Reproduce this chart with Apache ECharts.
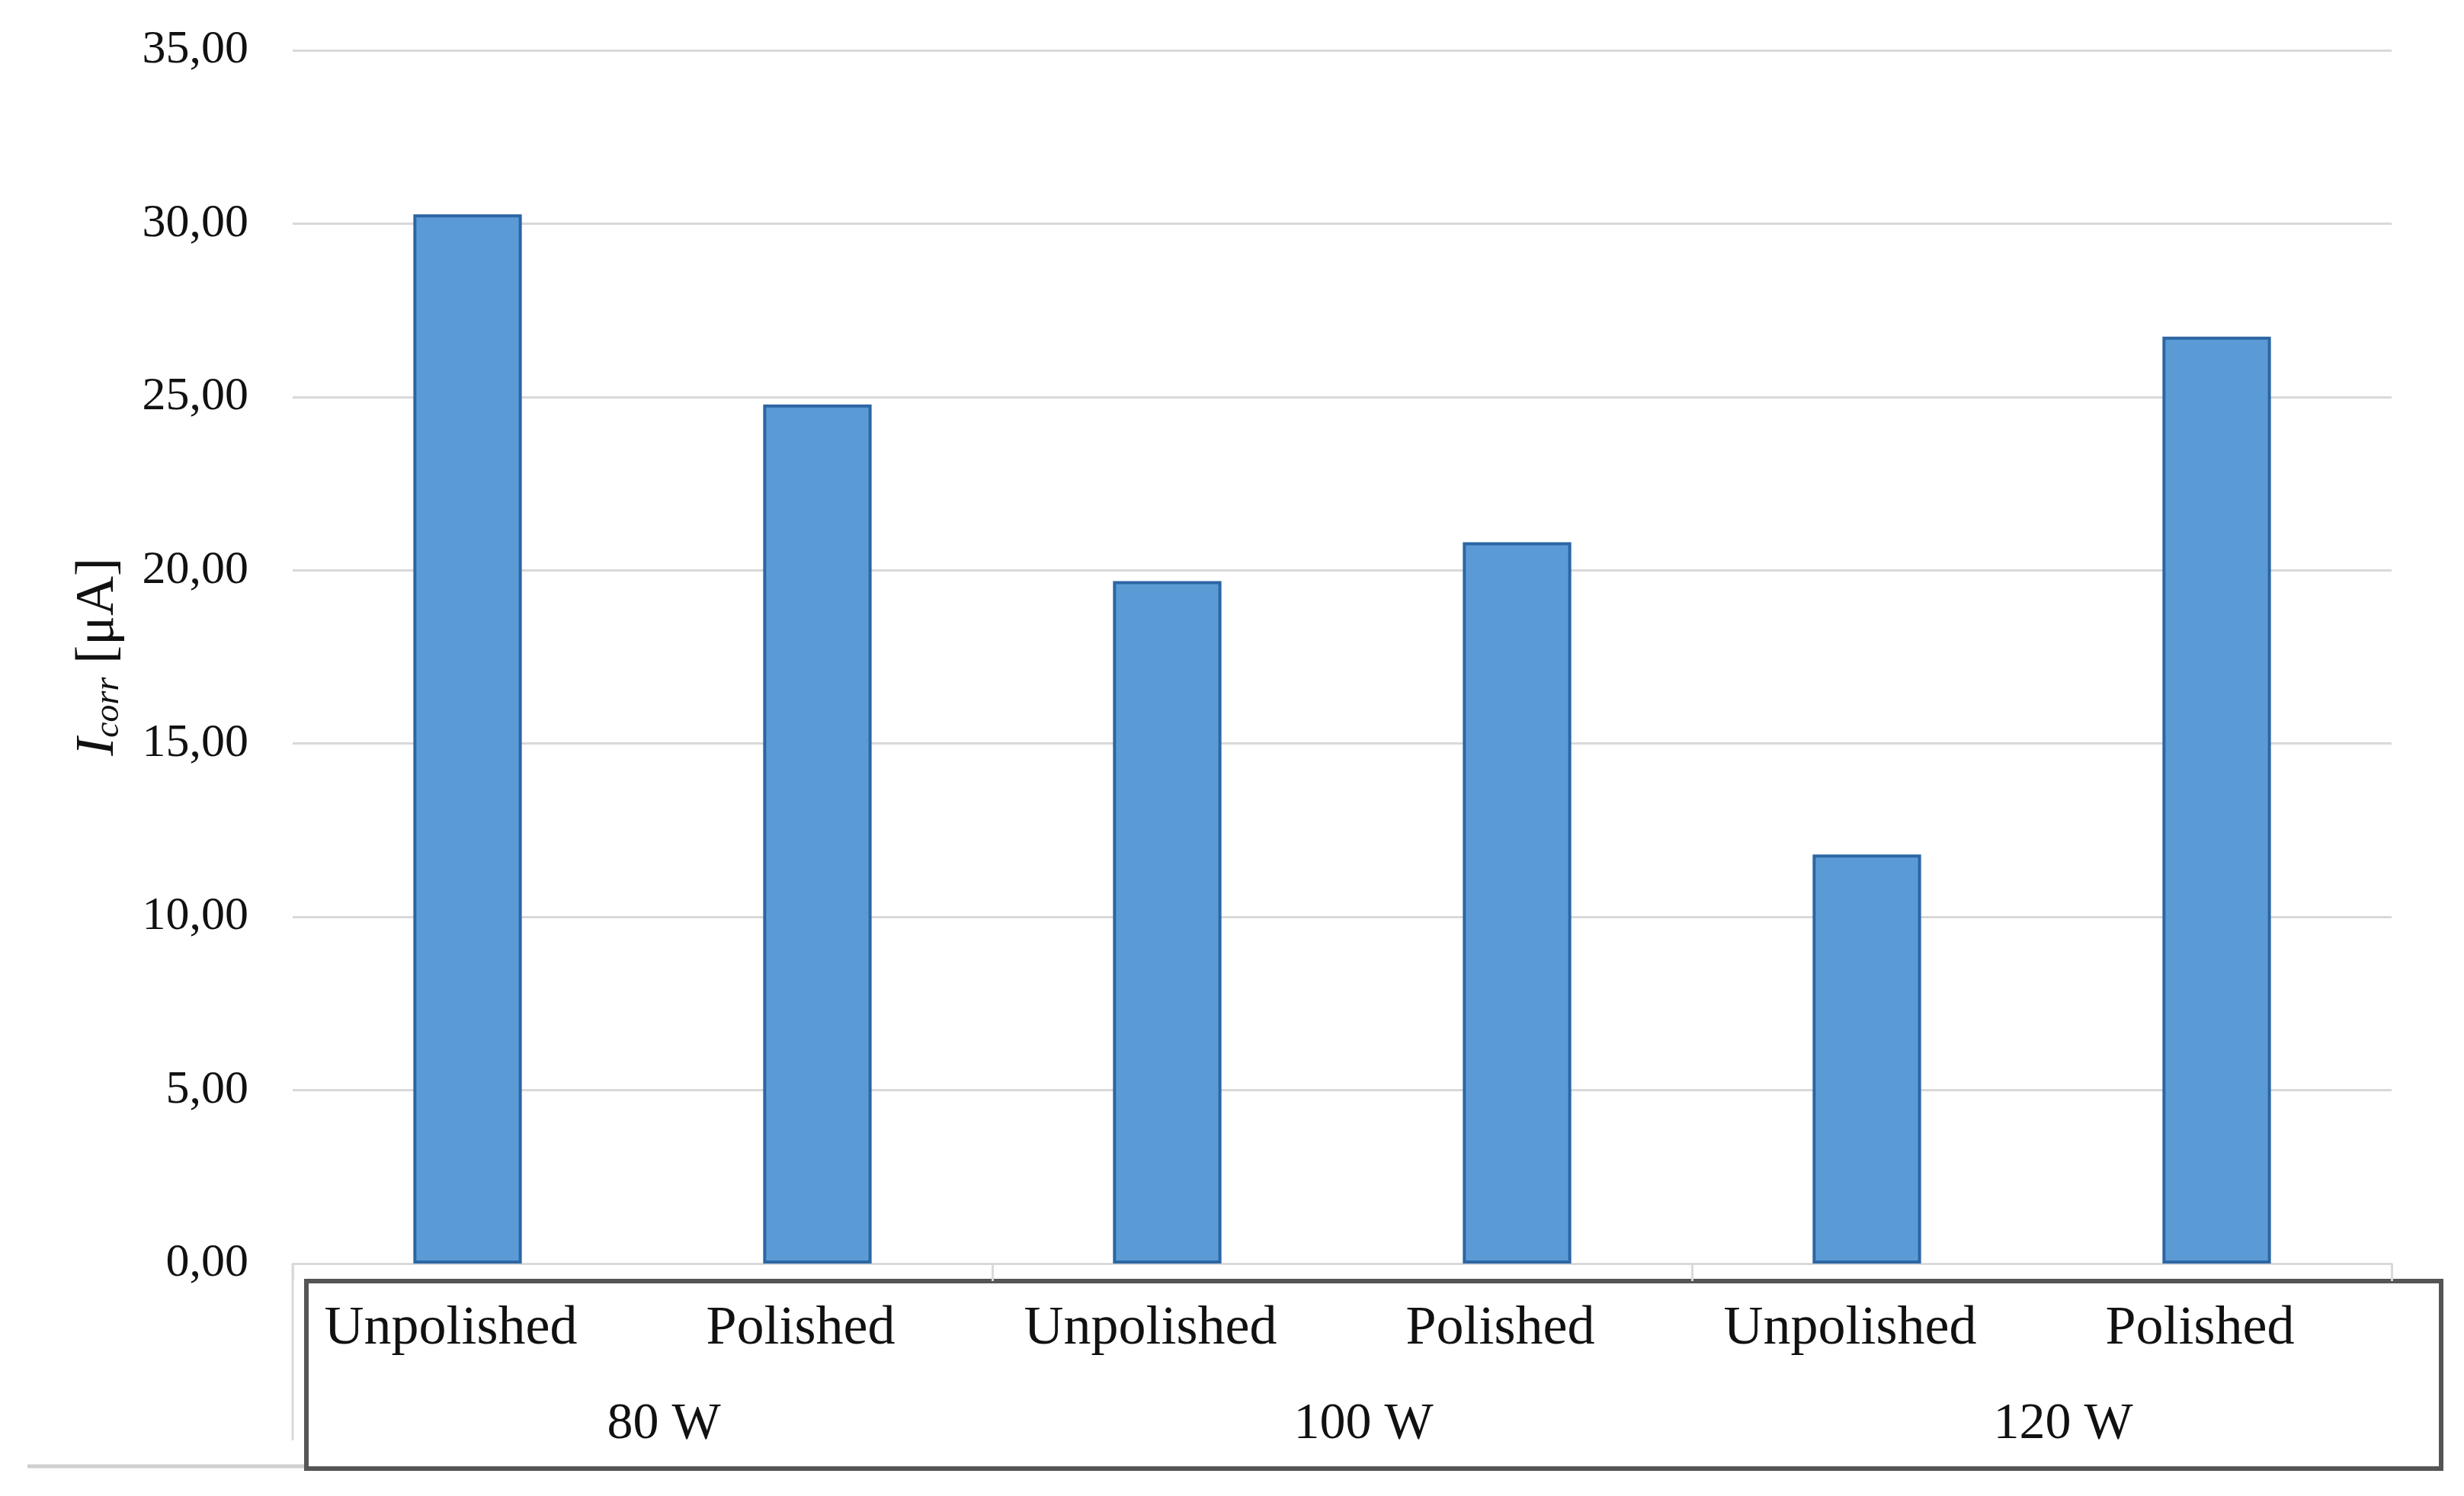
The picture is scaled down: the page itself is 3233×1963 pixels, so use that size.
<!DOCTYPE html>
<html>
<head>
<meta charset="utf-8">
<script src="https://cdn.jsdelivr.net/npm/echarts@6/dist/echarts.min.js"></script>
<style>
html,body{margin:0;padding:0;background:#fff;}
#chart{width:3233px;height:1963px;}
</style>
</head>
<body>
<div id="chart"></div>
<script>
const categories = ['Unpolished', 'Polished', 'Unpolished', 'Polished', 'Unpolished', 'Polished'];
const groups = ['80 W', '100 W', '120 W'];
const values = [30.27, 24.78, 19.69, 20.81, 11.80, 26.74];
const yMin = 0, yMax = 35, yStep = 5;

const FONT = 'Liberation Serif';
const chart = echarts.init(document.getElementById('chart'), null, {renderer: 'canvas'});
chart.setOption({
  backgroundColor: '#ffffff',
  animation: false,
  grid: {left: 384, right: 95, top: 66, bottom: 305, containLabel: false},
  xAxis: [
    {
      type: 'category',
      data: categories,
      position: 'bottom',
      axisLine: {show: true, lineStyle: {color: '#d9d9d9', width: 3}},
      axisTick: {show: false},
      axisLabel: {fontFamily: FONT, fontSize: 72, color: '#111', margin: 50, interval: 0, padding: [0, 44, 0, 0]}
    },
    {
      type: 'category',
      data: groups,
      position: 'bottom',
      axisLine: {show: false},
      axisTick: {show: true, length: 23, lineStyle: {color: '#d9d9d9', width: 3}},
      axisLabel: {fontFamily: FONT, fontSize: 68, color: '#111', margin: 177, interval: 0, padding: [0, 0, 0, 56]},
      splitLine: {show: false}
    }
  ],
  yAxis: {
    type: 'value',
    min: yMin, max: yMax, interval: yStep,
    axisLine: {show: false},
    axisTick: {show: false},
    splitLine: {show: true, lineStyle: {color: '#d9d9d9', width: 3}},
    axisLabel: {
      fontFamily: FONT, fontSize: 62, color: '#111', margin: 58,
      formatter: v => v.toFixed(2).replace('.', ',')
    },
    name: '{i|I}{sub|corr}{n| [μA]}',
    nameLocation: 'middle',
    nameGap: 210,
    nameTextStyle: {
      rich: {
        i: {fontFamily: FONT, fontSize: 72, fontStyle: 'italic', color: '#111', lineHeight: 90, verticalAlign: 'middle'},
        sub: {fontFamily: FONT, fontSize: 46, fontStyle: 'italic', color: '#111', lineHeight: 90, verticalAlign: 'bottom', padding: [0, 0, 8, 0]},
        n: {fontFamily: FONT, fontSize: 72, color: '#111', lineHeight: 90, verticalAlign: 'middle'}
      }
    }
  },
  series: [{
    type: 'bar',
    data: values,
    xAxisIndex: 0,
    barWidth: '31%',
    itemStyle: {color: '#5b9bd5', borderColor: '#2c66a3', borderWidth: 4}
  }],
  graphic: [
    {type: 'line', shape: {x1: 384, y1: 1658, x2: 384, y2: 1890}, style: {stroke: '#d9d9d9', lineWidth: 3}},
    {type: 'line', shape: {x1: 36, y1: 1924, x2: 402, y2: 1924}, style: {stroke: '#cfcfcf', lineWidth: 5}},
    {type: 'rect', shape: {x: 402, y: 1681, width: 2801, height: 246}, style: {fill: 'none', stroke: '#555555', lineWidth: 6}}
  ]
});
</script>
</body>
</html>
